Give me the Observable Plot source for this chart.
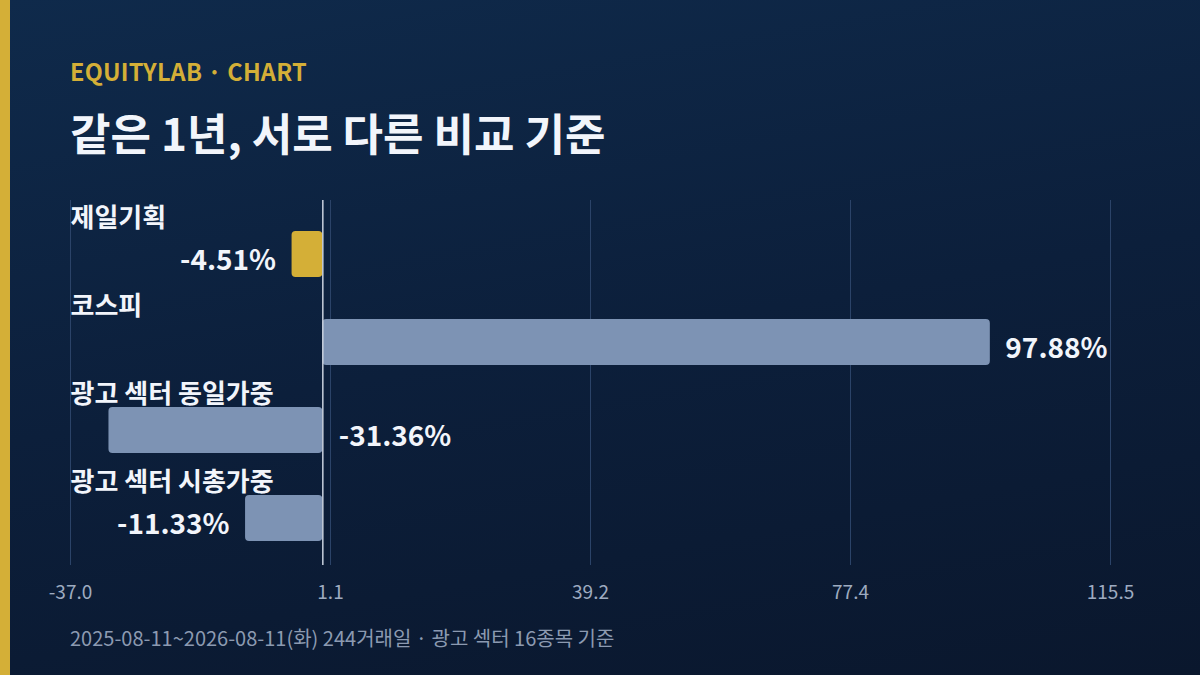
<!DOCTYPE html>
<html><head><meta charset="utf-8">
<script src="https://cdn.jsdelivr.net/npm/d3@7"></script>
<script src="https://cdn.jsdelivr.net/npm/@observablehq/plot@0.6"></script>
<style>
html,body{margin:0;padding:0;}
body{width:1200px;height:675px;overflow:hidden;font-family:"Noto Sans CJK KR","Noto Sans",sans-serif;}
#wrap{position:relative;width:1200px;height:675px;background:linear-gradient(170deg,#0f2a4b 0%,#0c1f3b 50%,#0a172d 100%);}
#stripe{position:absolute;left:0;top:0;width:10px;height:675px;background:#d4af37;}
#kicker{position:absolute;left:70px;top:54px;font-size:23.5px;font-weight:700;color:#d4af37;letter-spacing:0.2px;line-height:34px;}
#title{position:absolute;left:70px;top:102px;font-size:44px;font-weight:700;color:#f2f5fb;line-height:60px;}
#chart{position:absolute;left:0;top:180px;}
#foot{position:absolute;left:70px;top:623px;font-size:20px;color:#8c9ab1;line-height:30px;}
</style></head>
<body><div id="wrap"><div id="stripe"></div>
<div id="kicker">EQUITYLAB · CHART</div>
<div id="title">같은 1년, 서로 다른 비교 기준</div>
<div id="chart"></div>
<div id="foot">2025-08-11~2026-08-11(화) 244거래일 · 광고 섹터 16종목 기준</div>
</div>
<script>
const categories = ["제일기획", "코스피", "광고 섹터 동일가중", "광고 섹터 시총가중"];
const values = [-4.51, 97.88, -31.36, -11.33];
const highlight = ["제일기획"];
const tickValues = [-37.0, 1.125, 39.25, 77.375, 115.5];
const tickLabels = ["-37.0", "1.1", "39.2", "77.4", "115.5"];

const domain = [tickValues[0], tickValues[tickValues.length - 1]];
const rows = categories.map((c, i) => ({cat: c, v: values[i], hl: highlight.includes(c)}));
const fmt = v => v.toFixed(2) + "%";
// label placement: left of negative bar unless it lacks room, then right of zero
const leftRoom = d => d.v < 0 && (d.v - domain[0]) > 20;
const lblLeft = rows.filter(d => leftRoom(d));
const lblRight = rows.filter(d => d.v > 0);
const lblZero = rows.filter(d => d.v < 0 && !leftRoom(d));

const chart = Plot.plot({
  width: 1200,
  height: 420,
  marginLeft: 70,
  marginRight: 90,
  marginTop: 20,
  marginBottom: 35,
  style: {background: "transparent", fontFamily: "'Noto Sans CJK KR', sans-serif", overflow: "visible"},
  x: {domain, range: [70, 1110], ticks: tickValues, tickFormat: (d, i) => tickLabels[i], tickSize: 0, tickPadding: 20, label: null},
  y: {domain: categories, range: [20, 372], padding: 0, axis: null},
  marks: [
    Plot.ruleX(tickValues, {stroke: "#2b4368", strokeWidth: 1}),
    Plot.axisX({ticks: tickValues, tickFormat: (d, i) => tickLabels[i], tickSize: 0, tickPadding: 20, fontSize: 19, color: "#9eabc0", label: null}),
    Plot.barX(rows, {x1: 0, x2: "v", y: "cat", insetTop: 31, insetBottom: 11, rx: 4,
      fill: d => d.hl ? "#d4af37" : "#7d93b4"}),
    Plot.ruleX([0], {stroke: "#c9d1de", strokeWidth: 1.5}),
    Plot.text(rows, {x: domain[0], y: "cat", text: "cat", textAnchor: "start", dy: -26,
      fontSize: 26, fontWeight: 700, fill: "#f2f5fb"}),
    Plot.text(lblLeft, {x: "v", y: "cat", text: d => fmt(d.v), textAnchor: "end", dx: -16, dy: 17,
      fontSize: 28, fontWeight: 700, fill: "#f2f5fb"}),
    Plot.text(lblRight, {x: "v", y: "cat", text: d => fmt(d.v), textAnchor: "start", dx: 15, dy: 17,
      fontSize: 28, fontWeight: 700, fill: "#f2f5fb"}),
    Plot.text(lblZero, {x: 0, y: "cat", text: d => fmt(d.v), textAnchor: "start", dx: 16, dy: 17,
      fontSize: 28, fontWeight: 700, fill: "#f2f5fb"})
  ]
});
document.getElementById("chart").appendChild(chart);
</script>
</body></html>
